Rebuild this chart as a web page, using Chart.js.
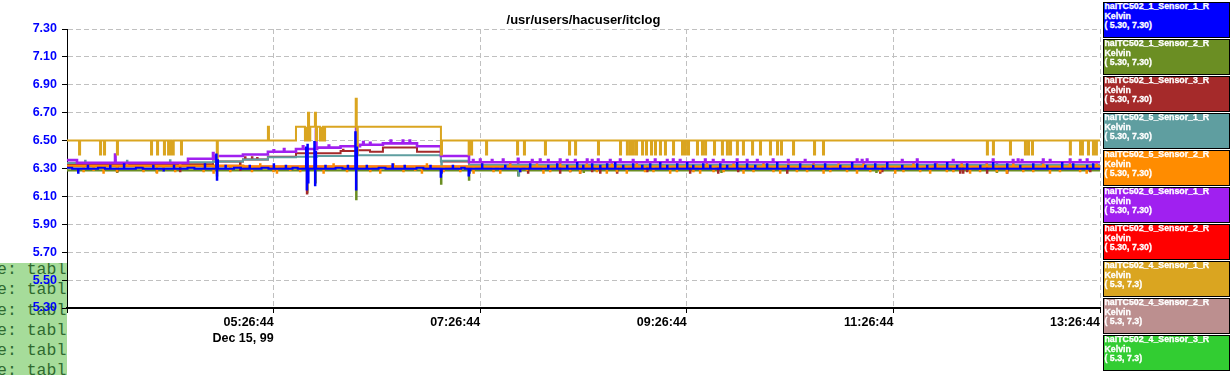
<!DOCTYPE html>
<html>
<head>
<meta charset="utf-8">
<script src="https://cdn.jsdelivr.net/npm/chart.js"></script>
<style>
  html, body { margin: 0; padding: 0; background: #ffffff; }
  #wrap { position: relative; width: 1231px; height: 375px; overflow: hidden; }
  #term { position: absolute; left: 0; top: 263px; width: 67px; height: 112px; background: #a6dc9a; overflow: hidden; z-index: 0; }
  #term div { position: relative; left: -3px; margin-top: -3px; font: 16.5px "Liberation Mono", "DejaVu Sans Mono", monospace; line-height: 20.3px; color: #2f6a2f; white-space: pre; }
  #c { position: absolute; left: 0; top: 0; z-index: 1; }
  #legend { position: absolute; left: 0; top: 0; z-index: 2; }
  .lg { position: absolute; left: 1103px; width: 127px; height: 36px; box-sizing: border-box; border: 1px solid #000; color: #fff; font: bold 8.8px "Liberation Sans", Arial, sans-serif; line-height: 9.5px; white-space: pre; overflow: hidden; -webkit-text-stroke: 0.3px #ffffff; }
  .lg div { margin-top: -1px; padding-left: 0.5px; }
</style>
</head>
<body>
<div id="wrap">
  <div id="term"><div>e: table
e: table
e: table
e: table
e: table
e: table</div></div>
  <canvas id="c" width="1231" height="375"></canvas>
  <div id="legend"></div>
</div>
<script>
// ---------- DATA ----------
// x values: minutes after 03:26:44 (Dec 15, 99); y values: Kelvin
const chartTitle = '/usr/users/hacuser/itclog';
const xTickLabels = ['', '05:26:44', '07:26:44', '09:26:44', '11:26:44', '13:26:44'];
const xDateLabel = 'Dec 15, 99';
const yTickLabels = ['5.30','5.50','5.70','5.90','6.10','6.30','6.50','6.70','6.90','7.10','7.30'];

const seriesNames = [
  'halTC502_1_Sensor_1_R', 'halTC502_1_Sensor_2_R', 'halTC502_1_Sensor_3_R',
  'halTC502_5_Sensor_1_R', 'halTC502_5_Sensor_2_R', 'halTC502_6_Sensor_1_R',
  'halTC502_6_Sensor_2_R', 'halTC502_4_Sensor_1_R', 'halTC502_4_Sensor_2_R',
  'halTC502_4_Sensor_3_R'
];
const seriesUnits = ['Kelvin','Kelvin','Kelvin','Kelvin','Kelvin','Kelvin','Kelvin','Kelvin','Kelvin','Kelvin'];
const seriesRanges = ['( 5.30, 7.30)','( 5.30, 7.30)','( 5.30, 7.30)','( 5.30, 7.30)','( 5.30, 7.30)',
                      '( 5.30, 7.30)','( 5.30, 7.30)','( 5.3, 7.3)','( 5.3, 7.3)','( 5.3, 7.3)'];

// level changes [minute, value] and short excursions [minute, value]
const lv1_1 = [[0,6.305],[3.0,6.298],[18.0,6.305],[22.0,6.298],[40.0,6.305],[44.0,6.298],[70.0,6.305],[74.0,6.298],
  [97.0,6.305],[101.0,6.298],[113.0,6.305],[117.0,6.298],[131.0,6.305],[134.0,6.298],[156.0,6.305],[160.0,6.298],
  [181.0,6.305],[185.0,6.298],[203.0,6.305],[207.0,6.298],[229.0,6.305],[231.0,6.298],[600,6.298]];
const sp1_1 = [[6.4,6.27],[12.0,6.32],[25.0,6.32],[33.0,6.33],[50.0,6.32],[56.0,6.285],[62.0,6.32],[80.0,6.33],
  [86.6,6.40],[87.0,6.22],[87.4,6.36],[92.0,6.32],[106.0,6.32],[120.0,6.33],[127.0,6.32],
  [138.8,6.45],[139.2,6.15],[139.6,6.47],[140.0,6.20],[143.6,6.49],[144.0,6.18],[144.4,6.42],
  [150.0,6.32],[163.0,6.32],[167.4,6.56],[167.8,6.15],[168.2,6.45],[174.0,6.32],[189.0,6.33],[196.0,6.32],
  [211.0,6.32],[217.0,6.24],[217.4,6.27],[224.0,6.32],[233.2,6.25],[233.6,6.27],[234.0,6.29],
  [241.0,6.33],[254.4,6.32],[263.1,6.28],[268.9,6.33],[279.4,6.32],[284.6,6.33],[290.4,6.32],[296.2,6.34],
  [299.7,6.32],[304.9,6.33],[309.6,6.32],[313.6,6.33],[318.3,6.34],[322.9,6.32],[328.7,6.33],[334.0,6.32],
  [338.6,6.33],[344.4,6.34],[348.5,6.32],[354.3,6.33],[360.1,6.34],[363.6,6.32],[369.4,6.33],[373.5,6.32],
  [379.3,6.33],[383.3,6.32],[389.1,6.34],[394.9,6.33],[399.6,6.32],[406.5,6.33],[412.4,6.34],[418.8,6.32],
  [425.7,6.33],[433.3,6.32],[440.2,6.33],[449.0,6.32],[455.9,6.34],[463.5,6.32],[469.3,6.33],[476.3,6.34],
  [485.0,6.32],[493.7,6.33],[499.5,6.32],[504.1,6.33],[511.1,6.34],[516.9,6.32],[522.7,6.33],[530.3,6.32],
  [537.8,6.34],[546.0,6.33],[553.5,6.32],[561.1,6.33],[569.2,6.32],[577.9,6.34],[584.3,6.33],[592.4,6.32],
  [595.9,6.33]];

const lv1_2 = [[0,6.285],[600,6.285]];
const sp1_2 = [[29.0,6.275],[52.0,6.275],[87.0,6.25],[139.4,6.13],[144.2,6.20],[167.9,6.08],[217.2,6.19],
  [233.4,6.22],[262.0,6.25],[300.0,6.275],[380.0,6.275],[470.0,6.275],[540.0,6.275]];

const lv1_3 = [[0,6.325],[70.3,6.33],[84.8,6.35],[102.2,6.365],[116.7,6.385],[133.0,6.41],[158.9,6.425],
  [168.4,6.43],[176.0,6.42],[183.5,6.45],[203.3,6.42],[217.2,6.35],[233.5,6.32],[600,6.32]];
const sp1_3 = [[29.0,6.28],[65.6,6.28],[100.5,6.29],[103.4,6.38],[107.4,6.38],[110.4,6.375],[139.3,6.12],
  [160.3,6.435],[267.7,6.27],[286.3,6.27],[292.1,6.28],[297.9,6.27],[304.9,6.28],[309.6,6.27],[319.4,6.27],
  [336.9,6.28],[361.8,6.27],[378.1,6.27],[389.7,6.28],[418.2,6.27],[472.2,6.27],[473.4,6.28],[518.7,6.27],
  [520.4,6.27],[522.7,6.28],[534.3,6.27],[546.0,6.27],[594.2,6.28]];

const lv5_1 = [[0,6.34],[70.3,6.345],[84.8,6.35],[102.2,6.365],[116.7,6.38],[133.0,6.385],[145.3,6.39],
  [168.4,6.395],[217.2,6.355],[233.5,6.325],[600,6.325]];
const sp5_1 = [[10.5,6.355],[27.9,6.36],[34.8,6.355],[59.8,6.36],[86.8,6.33],[139.0,6.30],[217.4,6.30],
  [261.9,6.365],[262.3,6.25],[534.1,6.335],[540.0,6.335],[566.0,6.335]];

const lv5_2 = [[0,6.32],[102.4,6.315],[600,6.315]];
const sp5_2 = [[9.5,6.28],[15.3,6.29],[21.1,6.27],[28.9,6.28],[34.7,6.34],[44.3,6.28],[52.1,6.27],[55.9,6.29],
  [62.7,6.28],[65.6,6.33],[79.2,6.28],[85.0,6.27],[94.7,6.28],[107.3,6.28],[112.1,6.33],[119.8,6.28],
  [121.8,6.27],[129.5,6.29],[135.3,6.28],[148.9,6.27],[154.7,6.33],[162.5,6.28],[176.0,6.28],[181.8,6.27],
  [189.5,6.33],[195.3,6.28],[202.1,6.29],[206.0,6.27],[208.9,6.33],[218.6,6.28],[228.3,6.28],[236.0,6.27],
  [240.9,6.33],[247.6,6.28],[251.5,6.27],[257.3,6.34],[263.1,6.28],[267.0,6.29],[272.8,6.33],[276.6,6.27],
  [280.5,6.28],[286.3,6.34],[292.1,6.28],[297.9,6.27],[301.8,6.33],[307.6,6.28],[313.4,6.27],[316.3,6.33],
  [319.2,6.28],[325.0,6.27],[330.8,6.34],[335.6,6.28],[340.5,6.28],[344.4,6.33],[350.2,6.27],[354.1,6.28],
  [359.9,6.33],[363.7,6.28],[367.6,6.27],[371.5,6.34],[375.4,6.28],[381.2,6.28],[387.0,6.33],[392.8,6.27],
  [398.6,6.28],[404.4,6.34],[410.2,6.28],[414.1,6.27],[418.9,6.33],[423.8,6.28],[429.7,6.28],[433.5,6.34],
  [439.3,6.27],[443.2,6.28],[448.0,6.33],[452.9,6.28],[458.7,6.27],[462.5,6.34],[466.4,6.28],[472.2,6.28],
  [476.1,6.33],[480.9,6.27],[485.7,6.28],[491.5,6.34],[495.4,6.28],[501.2,6.27],[505.1,6.33],[510.9,6.28],
  [514.7,6.28],[519.5,6.34],[524.4,6.27],[530.2,6.28],[534.1,6.33],[539.9,6.28],[545.7,6.27],[549.5,6.34],
  [555.3,6.28],[561.1,6.28],[566.9,6.33],[570.8,6.27],[576.6,6.28],[582.4,6.34],[588.3,6.28],[592.1,6.27],
  [597.9,6.33]];

const lv6_1 = [[0,6.36],[5.8,6.34],[70.3,6.37],[85.6,6.39],[102.2,6.40],[116.7,6.42],[133.0,6.44],[145.3,6.45],
  [158.9,6.46],[170.2,6.47],[183.5,6.48],[203.3,6.46],[217.2,6.39],[233.5,6.345],[600,6.345]];
const sp6_1 = [[27.9,6.40],[84.8,6.41],[120.0,6.43],[126.0,6.44],[137.0,6.46],[144.6,6.58],[152.0,6.465],
  [167.9,6.59],[172.0,6.49],[176.0,6.485],[188.0,6.50],[195.0,6.50],[199.0,6.50],[235.8,6.36],[239.9,6.365],
  [246.8,6.36],[253.2,6.365],[261.9,6.37],[270.1,6.36],[274.7,6.365],[279.4,6.36],[286.3,6.365],[290.4,6.36],
  [295.1,6.36],[302.0,6.365],[304.9,6.36],[308.4,6.365],[315.4,6.36],[321.2,6.365],[328.7,6.36],[336.9,6.36],
  [341.5,6.365],[348.5,6.36],[352.0,6.365],[356.0,6.36],[363.6,6.36],[370.6,6.365],[375.2,6.36],[381.0,6.36],
  [389.1,6.365],[394.9,6.36],[400.8,6.36],[410.0,6.365],[418.8,6.36],[428.6,6.36],[458.8,6.365],[461.7,6.36],
  [464.6,6.365],[485.0,6.36],[493.7,6.365],[514.6,6.36],[537.8,6.365],[549.4,6.36],[552.3,6.365],[554.6,6.36],
  [566.9,6.365],[570.9,6.36],[582.5,6.365],[588.3,6.36],[592.4,6.365]];

const lv6_2 = [[0,6.32],[102.4,6.315],[600,6.315]];
const sp6_2 = [];

const lv4_1 = [[0,6.50],[133.0,6.60],[217.2,6.50],[600,6.50]];
const sp4_1 = [[7.0,6.40],[19.2,6.40],[21.5,6.40],[29.0,6.40],[48.8,6.40],[52.3,6.40],[56.3,6.40],[58.7,6.40],
  [60.1,6.40],[60.8,6.40],[61.4,6.40],[66.2,6.40],[87.0,6.32],[116.7,6.60],
  [138.2,6.50],[138.8,6.50],[139.4,6.50],[140.0,6.70],[140.7,6.50],[144.0,6.70],[144.6,6.50],[146.9,6.50],
  [147.5,6.50],[148.1,6.50],[149.3,6.50],[167.7,6.80],[168.3,6.40],[217.2,6.40],[233.3,6.40],[234.0,6.40],
  [234.7,6.40],
  [243.4,6.40],[261.4,6.40],[265.4,6.40],[277.6,6.40],[291.6,6.40],[295.1,6.40],[308.4,6.40],[321.2,6.40],
  [325.2,6.40],[327.0,6.40],[328.7,6.40],[330.5,6.40],[334.0,6.40],[336.3,6.40],[339.2,6.40],[341.5,6.40],
  [344.4,6.40],[347.3,6.40],[352.0,6.40],[357.2,6.40],[358.9,6.40],[360.7,6.40],[365.9,6.40],[368.8,6.40],
  [370.6,6.40],[375.8,6.40],[380.4,6.40],[383.3,6.40],[385.1,6.40],[389.1,6.40],[392.6,6.40],[397.9,6.40],
  [402.5,6.40],[408.3,6.40],[412.4,6.40],[414.7,6.40],[421.7,6.40],[433.9,6.40],[439.1,6.40],[534.3,6.40],
  [537.8,6.40],[547.7,6.40],[556.4,6.40],[558.2,6.40],[560.5,6.40],[582.5,6.40],[588.4,6.40],[589.5,6.40],
  [593.0,6.40],[595.9,6.40],[597.6,6.40]];

const lv4_2 = [[0,6.30],[600,6.30]];
const sp4_2 = [];
const lv4_3 = [[0,6.30],[600,6.30]];
const sp4_3 = [];

const seriesLevels = [lv1_1, lv1_2, lv1_3, lv5_1, lv5_2, lv6_1, lv6_2, lv4_1, lv4_2, lv4_3];
const seriesSpikes = [sp1_1, sp1_2, sp1_3, sp5_1, sp5_2, sp6_1, sp6_2, sp4_1, sp4_2, sp4_3];

// ---------- STYLE ----------
const seriesColors = ['#0000ff','#6b8e23','#a52a2a','#5f9ea0','#ff8c00','#a020f0','#ff0000','#daa520','#bc8f8f','#32cd32'];
const seriesDrawOrder = [0, 6, 5, 4, 3, 2, 7, 1, 8, 9]; // lower = drawn on top
const seriesWidths = [2, 2, 2, 2, 2, 2.6, 2, 2, 2, 2];
const spikeWidths = [0.3, 0.3, 0.3, 0.3, 0.3, 0.3, 0.3, 0.6, 0.3, 0.3];

// ---------- BUILD ----------
function levelAt(levels, t) {
  let v = levels[0][1];
  for (const p of levels) { if (p[0] <= t) v = p[1]; }
  return v;
}
function buildPoints(levels, spikes, w) {
  const pts = levels.map(p => ({x: p[0], y: p[1]}));
  for (const s of spikes) {
    pts.push({x: s[0], y: s[1]});
    pts.push({x: s[0] + w, y: levelAt(levels, s[0] + w)});
  }
  const idx = pts.map((p, i) => [p, i]);
  idx.sort((a, b) => (a[0].x - b[0].x) || (a[1] - b[1]));
  return idx.map(a => a[0]);
}

const datasets = seriesNames.map((name, i) => ({
  label: name,
  data: buildPoints(seriesLevels[i], seriesSpikes[i], spikeWidths[i]),
  borderColor: seriesColors[i],
  backgroundColor: seriesColors[i],
  borderWidth: seriesWidths[i],
  pointRadius: 0,
  stepped: true,
  fill: false,
  order: seriesDrawOrder[i]
}));

const titlePlugin = {
  id: 'plotTitle',
  afterDraw(chart) {
    const ctx = chart.ctx, a = chart.chartArea;
    ctx.save();
    ctx.font = 'bold 13px "Liberation Sans", Arial, sans-serif';
    ctx.fillStyle = '#000';
    ctx.textAlign = 'center';
    ctx.textBaseline = 'middle';
    ctx.fillText(chartTitle, (a.left + a.right) / 2, 20);
    ctx.restore();
  }
};

new Chart(document.getElementById('c'), {
  type: 'line',
  data: { datasets },
  plugins: [titlePlugin],
  options: {
    responsive: false,
    animation: false,
    devicePixelRatio: 1,
    layout: { padding: { top: 29, right: 131, left: 0, bottom: 0 } },
    plugins: { legend: { display: false }, tooltip: { enabled: false }, title: { display: false } },
    scales: {
      x: {
        type: 'linear', min: 0, max: 600,
        afterFit(scale) { scale.height = 67; },
        ticks: {
          stepSize: 120, autoSkip: false, maxRotation: 0, minRotation: 0, align: 'end', padding: 2,
          color: '#000',
          font: { family: '"Liberation Sans", Arial, sans-serif', size: 12.5, weight: 'bold', lineHeight: 1.24 },
          callback(value, index) {
            const lab = xTickLabels[index];
            return index === 1 ? [lab, xDateLabel] : lab;
          }
        },
        grid: { color: '#c0c0c0', lineWidth: 1, tickColor: '#000', tickLength: 5, tickWidth: 1, tickBorderDash: [] },
        border: { display: true, color: '#000', width: 2, dash: [5, 3] }
      },
      y: {
        type: 'linear', min: 5.3, max: 7.3,
        afterFit(scale) { scale.width = 67; },
        ticks: {
          stepSize: 0.2, padding: 5, color: '#0000ff',
          font: { family: '"Liberation Sans", Arial, sans-serif', size: 12.5, weight: 'bold' },
          callback(value, index) { return yTickLabels[index]; }
        },
        grid: { color: '#c0c0c0', lineWidth: 1, tickColor: '#000', tickLength: 5, tickWidth: 1, tickBorderDash: [] },
        border: { display: true, color: '#000', width: 1, dash: [5, 3] }
      }
    }
  }
});

// legend boxes
const legend = document.getElementById('legend');
seriesNames.forEach((name, i) => {
  const box = document.createElement('div');
  box.className = 'lg';
  box.style.top = (2 + 37 * i) + 'px';
  box.style.background = seriesColors[i];
  const inner = document.createElement('div');
  inner.textContent = name + '\n' + seriesUnits[i] + '\n' + seriesRanges[i];
  box.appendChild(inner);
  legend.appendChild(box);
});
</script>
</body>
</html>
